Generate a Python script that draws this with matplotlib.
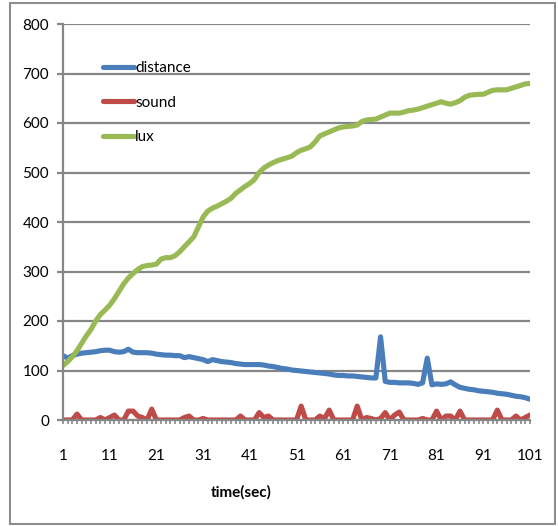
import numpy as np
import matplotlib.pyplot as plt
from matplotlib.patches import Rectangle

plt.rcParams['font.family'] = ['Lato', 'DejaVu Sans']

# time axis (seconds)
time = np.arange(1, 102)
tick_labels = [str(t) for t in range(1, 102, 10)]

distance = [130, 125, 130, 133, 135, 136, 137, 138, 140, 141,
            141, 138, 137, 138, 143, 137, 136, 136, 136, 135,
            133, 132, 131, 131, 130, 130, 126, 128, 126, 124,
            122, 118, 122, 120, 118, 117, 116, 114, 113, 112,
            112, 112, 112, 111, 109, 108, 106, 104, 103, 101,
            100, 99, 98, 97, 96, 95, 94, 93, 91, 90,
            90, 89, 89, 88, 87, 86, 85, 85, 168, 78,
            76, 76, 75, 75, 75, 74, 72, 75, 125, 71,
            73, 72, 73, 77, 71, 66, 64, 62, 61, 59,
            58, 57, 56, 54, 53, 52, 50, 48, 47, 45,
            42]

sound = [0, 0, 0, 12, 0, 0, 0, 0, 5, 0,
         5, 10, 0, 0, 18, 18, 8, 5, 0, 22,
         0, 0, 0, 0, 0, 0, 5, 8, 0, 0,
         3, 0, 0, 0, 0, 0, 0, 0, 8, 0,
         0, 0, 15, 5, 8, 0, 0, 0, 0, 0,
         0, 28, 0, 0, 0, 8, 3, 20, 0, 0,
         0, 0, 0, 28, 0, 5, 3, 0, 3, 15,
         0, 10, 16, 0, 0, 0, 0, 3, 0, 0,
         18, 0, 8, 8, 0, 18, 0, 0, 0, 0,
         0, 0, 0, 20, 0, 0, 0, 8, 0, 5,
         10]

lux = [110, 118, 128, 140, 155, 170, 183, 200, 213, 222,
       232, 245, 260, 275, 287, 296, 304, 310, 312, 313,
       315, 325, 328, 328, 332, 340, 350, 360, 370, 390,
       410, 422, 428, 432, 437, 442, 448, 458, 465, 472,
       478, 486, 500, 509, 515, 520, 524, 527, 530, 533,
       540, 545, 548, 552, 562, 574, 578, 582, 586, 590,
       592, 593, 594, 596, 603, 606, 607, 608, 612, 616,
       620, 620, 620, 622, 625, 626, 628, 631, 634, 637,
       640, 643, 640, 638, 641, 645, 652, 656, 657, 658,
       658, 662, 666, 667, 667, 667, 670, 673, 676, 679,
       680]

grid_col = '#868686'

fig = plt.figure(figsize=(5.58, 5.26), dpi=100)
ax = fig.add_axes([63 / 558, 1 - 420 / 526, 467 / 558, 396 / 526])

ax.plot(time, distance, color='#4A7EBB', lw=3.7, label='distance', solid_capstyle='round')
ax.plot(time, sound, color='#BE4B48', lw=3.7, label='sound', solid_capstyle='round')
ax.plot(time, lux, color='#98B954', lw=3.7, label='lux', solid_capstyle='round')

ax.set_xlim(1, 101)
ax.set_ylim(0, 800)
ax.set_yticks(range(0, 801, 100))
ax.set_xticks(range(1, 102, 10))
ax.set_xticklabels(tick_labels)
ax.set_xticks(time, minor=True)

ax.yaxis.grid(True, color=grid_col, lw=1.6)
ax.set_axisbelow(True)
for s in ['top', 'right']:
    ax.spines[s].set_visible(False)
for s in ['left', 'bottom']:
    ax.spines[s].set_color(grid_col)
    ax.spines[s].set_linewidth(1.6)

ax.tick_params(axis='y', length=4, width=1.6, color=grid_col, pad=6, labelsize=11)
ax.tick_params(axis='x', which='both', length=3, width=1.2, color=grid_col)
ax.tick_params(axis='x', which='major', pad=18, labelsize=11)

ax.set_xlabel('time(sec)', fontsize=11, fontweight='bold')
ax.xaxis.set_label_coords((241 - 63) / 467, -72 / 396)
ax.xaxis.label.set_va('center')

ax.legend(loc='upper left', bbox_to_anchor=((103 - 63) / 467, (420 - 61) / 396),
          frameon=False, fontsize=11, handlelength=2.0, handletextpad=0.1,
          labelspacing=1.35, borderaxespad=0, borderpad=0)

fig.patches.append(Rectangle((10 / 558, 1 - 524 / 526), 545 / 558, 521 / 526,
                             transform=fig.transFigure, fill=False,
                             edgecolor='#8c8c8c', lw=1.5))

plt.savefig('out.png', dpi=100)
